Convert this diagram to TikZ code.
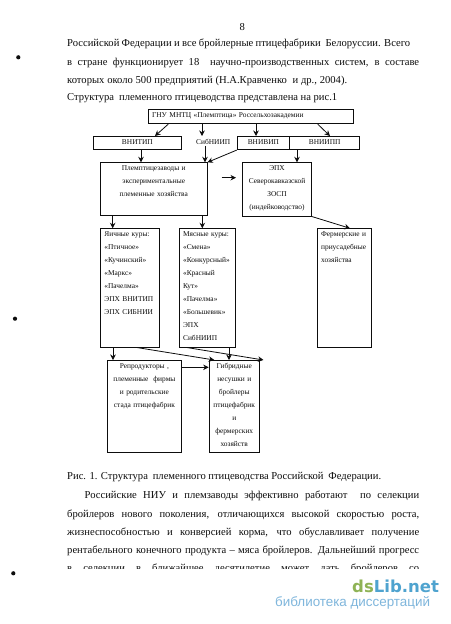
\documentclass[tikz,border=0pt]{standalone}
\usepackage{xcolor}
\usepackage{fontspec}
\setmainfont{Liberation Serif}
\newfontfamily\logofont{DejaVu Sans}
\newfontfamily\logotextfont{Liberation Sans}
\usetikzlibrary{arrows.meta}
\definecolor{ink}{gray}{0.05}
\definecolor{logogreen}{HTML}{8FB356}
\definecolor{logoblue}{HTML}{4FA3CF}
\definecolor{logopale}{HTML}{7FB6DC}

\begin{document}
\begin{tikzpicture}[
  x=1pt, y=-1pt,
  unit/.style 2 args={rectangle, draw=ink, line width=0.8pt, anchor=north west, inner ysep=0pt,
                inner xsep=4pt, text width=#1pt, text height=8pt, text depth=#2pt,
                text=ink, align=center, font=\fontsize{7.4}{13}\selectfont},
  link/.style={line width=0.8pt, draw=ink, -{Stealth[length=5.5pt, width=5.5pt]}},
  pageline/.style={anchor=west, inner sep=0pt, text=ink, font=\fontsize{10.6}{12}\selectfont},
]
  \useasboundingbox (0,0) rectangle (450,624);
  \fill[white] (0,0) rectangle (450,624);

  % Page text above the figure
  \node[pageline] (pagenum) at (239.5,27) {8};
  \node[pageline] (l1) at (67,44) {\makebox[343pt][s]{Российской Федерации и все бройлерные птицефабрики\ \ Белоруссии. Всего}};
  \node[pageline] (l2) at (67,62.5) {\makebox[352pt][s]{в стране функционирует 18\ \ научно-производственных систем, в составе}};
  \node[pageline] (l3) at (67,81) {\makebox[280pt][s]{которых около 500 предприятий (Н.А.Кравченко\ \ и др., 2004).}};
  \node[pageline] (l4) at (67,98.5) {\makebox[270pt][s]{Структура\ \ племенного птицеводства представлена на рис.1}};

  % Top row
  \node[unit={197}{6}, align=left] at (147.7,109.3) (gnu) {ГНУ МНТЦ «Племптица» Россельхозакадемии};
  \node[unit={79.4}{5.3}] at (93.3,136) (vnitip) {ВНИТИП};
  \node[unit={36}{5.3}, draw=none] at (190.8,136) (sib) {СибНИИП};
  \node[unit={44.6}{5.3}] at (236.7,136) (vnivip) {ВНИВИП};
  \node[unit={62}{5.3}] at (289.3,136) (vniipp) {ВНИИПП};

  % Second row
  \node[unit={98.7}{44.7}] at (100,162.3) (plem) {Племптицезаводы и\\экспериментальные\\племенные хозяйства};
  \node[unit={60.7}{45.4}] at (242.3,162.3) (ephx) {ЭПХ\\Северокавказской\\ЗОСП\\(индейководство)};

  % Third row
  \node[unit={50.7}{110.4}, align=left] at (100,228.3) (egg) {Яичные куры:\\«Птичное»\\«Кучинский»\\«Маркс»\\«Пачелма»\\ЭПХ ВНИТИП\\ЭПХ СИБНИИ};
  \node[unit={48.3}{110.4}, align=left] at (178.7,228.3) (meat) {Мясные куры:\\«Смена»\\«Конкурсный»\\«Красный\\Кут»\\«Пачелма»\\«Большевик»\\ЭПХ\\СибНИИП};
  \node[unit={46}{110.4}, align=left] at (316.7,228.3) (farm) {Фермерские и\\приусадебные\\хозяйства};

  % Bottom row
  \node[unit={66.6}{84.3}] at (106.7,360) (repro) {Репродукторы ,\\племенные\ \ фирмы\\и родительские\\стада птицефабрик};
  \node[unit={42.3}{84.3}] at (208.7,360) (hybrid) {Гибридные\\несушки и\\бройлеры\\птицефабрик\\и\\фермерских\\хозяйств};

  % Arrows
  \draw[link] ([xshift=20.6pt]gnu.south west) -- ([xshift=61.7pt]vnitip.north west);
  \draw[link] ([xshift=54.3pt]gnu.south west) -- ([xshift=11.2pt]sib.north west);
  \draw[link] ([xshift=108.3pt]gnu.south west) -- ([xshift=19.3pt]vnivip.north west);
  \draw[link] ([xshift=170pt]gnu.south west) -- ([xshift=40.7pt]vniipp.north west);
  \draw[link] ([xshift=47.7pt]vnitip.south west) -- ([xshift=41pt]plem.north west);
  \draw[link] ([xshift=14.2pt,yshift=4.3pt]sib.south west) -- ([xshift=105pt]plem.north west);
  \draw[link] (vnivip.south west) -- (plem.north east);
  \draw[link] ([xshift=7.7pt]vniipp.south west) -- ([xshift=54.7pt]ephx.north west);
  \coordinate (gapstart) at (221.7,177.7);
  \coordinate (gapend) at (236,177.7);
  \draw[link] (gapstart) -- (gapend);
  \draw[link] ([xshift=12.7pt]plem.south west) -- ([xshift=12.7pt]egg.north west);
  \draw[link] ([xshift=102.3pt]plem.south west) -- ([xshift=23.6pt]meat.north west);
  \draw[link] (ephx.south east) -- ([xshift=33.3pt]farm.north west);
  \draw[link] ([xshift=13pt]egg.south west) -- ([xshift=6.3pt]repro.north west);
  \draw[link] ([xshift=36.7pt]egg.south west) -- ([xshift=5.6pt]hybrid.north west);
  \draw[link] ([xshift=50.3pt]meat.south west) -- ([xshift=20.3pt]hybrid.north west);
  \draw[link] ([xshift=8pt]meat.south west) -- ([xshift=3.7pt]hybrid.north east);
  \draw[link] ([yshift=-7.3pt]repro.north east) -- ([yshift=-7.3pt]hybrid.north west);

  % Page text below the figure
  \node[pageline] (cap) at (67,477.5) {\makebox[314pt][s]{Рис. 1. Структура\ \ племенного птицеводства Российской\ \ Федерации.}};
  \node[pageline] (p1) at (84.5,496) {\makebox[334.5pt][s]{Российские НИУ и племзаводы эффективно работают\ \ по селекции}};
  \node[pageline] (p2) at (67,514.5) {\makebox[352pt][s]{бройлеров нового поколения, отличающихся высокой скоростью роста,}};
  \node[pageline] (p3) at (67,532.7) {\makebox[352pt][s]{жизнеспособностью и конверсией корма, что обуславливает получение}};
  \node[pageline] (p4) at (67,550.7) {\makebox[352pt][s]{рентабельного конечного продукта -- мяса бройлеров. Дальнейший прогресс}};
  \node[pageline] (p5) at (67,569) {\makebox[352pt][s]{в селекции в ближайшее десятилетие может дать бройлеров со}};

  % Footer cut off by the banner
  \fill[white] (0,568.5) rectangle (450,624);
  \foreach \px/\py in {18.3/57.3, 15/318.7, 13.3/573.3} {
    \fill[ink] (\px,\py) circle (2.1);
  }
  \node[anchor=west, inner sep=0pt, font=\logofont\bfseries\fontsize{16.5}{18}\selectfont] (logo) at (352,586)
    {\textcolor{logogreen}{ds}\textcolor{logoblue}{Lib.net}};
  \node[anchor=west, inner sep=0pt, text=logopale, font=\logotextfont\fontsize{13.4}{14}\selectfont] (logotext) at (275,603)
    {библиотека диссертаций};
\end{tikzpicture}
\end{document}
